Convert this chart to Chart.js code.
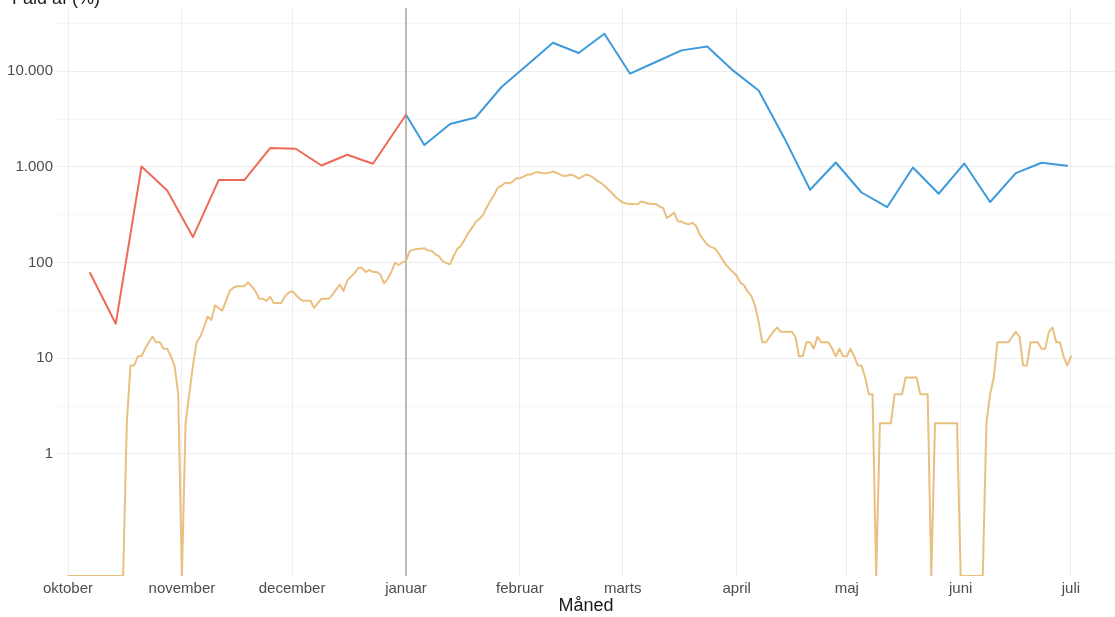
<!DOCTYPE html>
<html>
<head>
<meta charset="utf-8">
<script src="https://cdn.jsdelivr.net/npm/chart.js@4.4.1/dist/chart.umd.min.js"></script>
<style>
  html, body { margin: 0; padding: 0; background: #fff; }
  #wrap { position: relative; width: 1115px; height: 617px; }
</style>
</head>
<body>
<div id="wrap"><canvas id="chart"></canvas></div>
<script>
// x axis: days since 1 October
const MONTH_LABELS = ['oktober', 'november', 'december', 'januar', 'februar', 'marts', 'april', 'maj', 'juni', 'juli'];
const MONTH_DAYS = [0, 31, 61, 92, 123, 151, 182, 212, 243, 273];

const Y_TICK_VALUES = [1, 10, 100, 1000, 10000];
const Y_TICK_LABELS = ['1', '10', '100', '1.000', '10.000'];

// weekly series before the new year (red)
const RED_DAYS = [6, 13, 20, 27, 34, 41, 48, 55, 62, 69, 76, 83, 92];
const RED_VALUES = [78, 23, 1010, 568, 185, 729, 729, 1577, 1550, 1037, 1342, 1080, 3516];

// weekly series after the new year (blue)
const BLUE_DAYS = [92, 97, 104, 111, 118, 125, 132, 139, 146, 153, 160, 167, 174, 181, 188, 195, 202, 209, 216, 223, 230, 237, 244, 251, 258, 265, 272];
const BLUE_VALUES = [3516, 1694, 2810, 3296, 6855, 11670, 19910, 15540, 24720, 9446, 12510, 16550, 18200, 10220, 6310, 2000, 578, 1114, 541, 381, 988, 525, 1088, 430, 863, 1107, 1030];

// daily series (tan), one value per day from 1 October; 0 sits on the panel floor
const DAILY_VALUES = [
  0, 0, 0, 0, 0, 0, 0, 0, 0, 0, 0, 0, 0, 0, 0, 0,
  2.1, 8.4, 8.4, 10.5, 10.5, 12.6, 14.7, 16.8, 14.7, 14.7, 12.6, 12.6, 10.5, 8.4, 4.2,
  0, 2.1, 4.2, 8.4, 14.7, 16.8, 21, 27.3, 25.2, 35.7, 33.6, 31.5, 39.9, 50.4, 54.6,
  56.7, 56.7, 56.7, 61.9, 56.7, 50.4, 42, 42, 39.9, 44.1, 37.8, 37.8, 37.8, 44.1, 48.3,
  50.4, 46.2, 42, 39.9, 39.9, 39.9, 33.6, 37.8, 42, 42, 42, 46.2, 52.5, 58.8, 50.4,
  65.1, 71.4, 77.7, 88.2, 88.2, 79.8, 84, 79.8, 79.8, 75.6, 60.9, 67.2, 79.8, 99.8, 94.5,
  100.8, 105, 132, 136, 139, 140, 141, 134, 133, 122, 116, 104, 99, 96, 118,
  140, 151, 175, 205, 232, 267, 287, 316, 379, 444, 513, 607, 637, 683, 675,
  700, 764, 760, 793, 833, 833, 873, 884, 867, 861, 873, 897, 866, 833, 803,
  813, 833, 803, 755, 793, 833, 813, 775, 719, 683, 637, 586, 537, 489, 453,
  426, 416, 411, 409, 408, 435, 426, 414, 411, 411, 386, 372, 293, 310, 334,
  270, 269, 257, 251, 261, 240, 195, 173, 154, 146, 141, 128, 110, 96, 87,
  80, 73, 62, 58, 50, 45, 35.5, 24, 14.7, 14.7, 16.8, 18.9, 21, 18.9, 18.9,
  18.9, 18.9, 16.8, 10.5, 10.5, 14.7, 14.7, 12.6, 16.8, 14.7, 14.7, 14.7, 12.6, 10.5, 12.6,
  10.5, 10.5, 12.6, 10.5, 8.4, 8.4, 6.3, 4.2, 4.2, 0, 2.1, 2.1, 2.1, 2.1, 4.2,
  4.2, 4.2, 6.3, 6.3, 6.3, 6.3, 4.2, 4.2, 4.2, 0, 2.1, 2.1, 2.1, 2.1, 2.1,
  2.1, 2.1, 0, 0, 0, 0, 0, 0, 0, 2.1, 4.2, 6.3, 14.7, 14.7, 14.7,
  14.7, 16.8, 18.9, 16.8, 8.4, 8.4, 14.7, 14.7, 14.7, 12.6, 12.6, 18.9, 21, 14.7, 14.7,
  10.5, 8.4, 10.5
];

const NEW_YEAR_DAY = 92;
const Y_MIN = 0.053, Y_MAX = 45900;
const X_MIN = -3, X_MAX = 285;

const toPoints = (days, vals) => days.map((d, i) => ({ x: d, y: vals[i] === 0 ? Y_MIN : vals[i] }));

const vlinePlugin = {
  id: 'vline',
  beforeDatasetsDraw(chart) {
    const { ctx, chartArea, scales } = chart;
    const x = scales.x.getPixelForValue(NEW_YEAR_DAY);
    ctx.save();
    ctx.strokeStyle = '#a8a8a8';
    ctx.lineWidth = 1.5;
    ctx.beginPath();
    ctx.moveTo(x, chartArea.top);
    ctx.lineTo(x, chartArea.bottom);
    ctx.stroke();
    ctx.restore();
  }
};

// y axis title sits at top left, mostly cut off by the top edge
const yTitlePlugin = {
  id: 'ytitle',
  afterDraw(chart) {
    const ctx = chart.ctx;
    ctx.save();
    ctx.font = '18px "Liberation Sans", Arial, sans-serif';
    ctx.fillStyle = '#1a1a1a';
    ctx.textBaseline = 'alphabetic';
    ctx.fillText('Fald af (%)', 12, 3.5);
    ctx.restore();
  }
};

const ctx = document.getElementById('chart').getContext('2d');

new Chart(ctx, {
  type: 'line',
  data: {
    datasets: [
      {
        data: toPoints(RED_DAYS, RED_VALUES),
        borderColor: '#ee6a58',
        borderWidth: 2
      },
      {
        data: toPoints(BLUE_DAYS, BLUE_VALUES),
        borderColor: '#3d9bdb',
        borderWidth: 2
      },
      {
        data: toPoints(DAILY_VALUES.map((v, i) => i), DAILY_VALUES),
        borderColor: '#e9c07f',
        borderWidth: 2
      }
    ]
  },
  options: {
    responsive: true,
    maintainAspectRatio: false,
    animation: false,
    layout: { padding: { top: 8, right: 0, left: 0, bottom: 0 } },
    elements: {
      point: { radius: 0, hoverRadius: 0 },
      line: { tension: 0, borderJoinStyle: 'round', borderCapStyle: 'round' }
    },
    plugins: {
      legend: { display: false },
      tooltip: { enabled: false }
    },
    scales: {
      x: {
        type: 'linear',
        min: X_MIN,
        max: X_MAX,
        bounds: 'data',
        afterBuildTicks: s => { s.ticks = MONTH_DAYS.map(v => ({ value: v })); },
        afterFit: s => { s.height = 41; s.paddingLeft = 0; s.paddingRight = 0; },
        border: { display: false },
        grid: { color: '#ededed', lineWidth: 1, drawTicks: false },
        ticks: {
          autoSkip: false,
          maxRotation: 0,
          padding: 4,
          color: '#4d4d4d',
          font: { family: '"Liberation Sans", Arial, sans-serif', size: 15 },
          callback: v => MONTH_LABELS[MONTH_DAYS.indexOf(v)]
        },
        title: {
          display: true,
          text: 'Måned',
          color: '#1a1a1a',
          padding: { top: 0, bottom: 0 },
          font: { family: '"Liberation Sans", Arial, sans-serif', size: 18 }
        }
      },
      y: {
        type: 'logarithmic',
        min: Y_MIN,
        max: Y_MAX,
        bounds: 'data',
        afterBuildTicks: s => {
          const vals = [];
          Y_TICK_VALUES.forEach(v => { vals.push(v); vals.push(v * Math.sqrt(10)); });
          s.ticks = vals.map(v => ({ value: v }));
        },
        afterFit: s => { s.width = 57; s.paddingTop = 0; s.paddingBottom = 0; },
        border: { display: false },
        grid: {
          drawTicks: false,
          lineWidth: 1,
          color: c => (c.tick && Y_TICK_VALUES.includes(c.tick.value)) ? '#ededed' : '#f6f6f6'
        },
        ticks: {
          autoSkip: false,
          padding: 4,
          color: '#4d4d4d',
          font: { family: '"Liberation Sans", Arial, sans-serif', size: 15 },
          callback: v => {
            const i = Y_TICK_VALUES.indexOf(v);
            return i >= 0 ? Y_TICK_LABELS[i] : '';
          }
        }
      }
    }
  },
  plugins: [vlinePlugin, yTitlePlugin]
});
</script>
</body>
</html>
